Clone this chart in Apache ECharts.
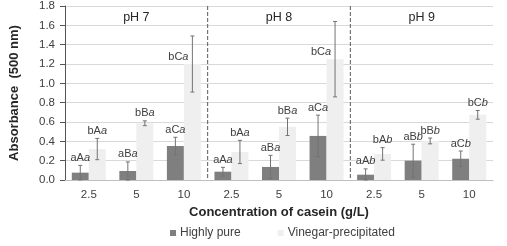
<!DOCTYPE html>
<html>
<head>
<meta charset="utf-8">
<script src="https://cdn.jsdelivr.net/npm/echarts@6/dist/echarts.min.js"></script>
<style>
  html, body { margin: 0; padding: 0; background: #fff; }
  #chart { width: 507px; height: 246px; }
</style>
</head>
<body>
<div id="chart"></div>
<script>
// casein absorbance, three pH groups
const categories = ['2.5', '5', '10', '2.5', '5', '10', '2.5', '5', '10'];
const phGroups = ['pH 7', 'pH 8', 'pH 9'];
const dividers = [3, 6];

const pureValues = [0.076, 0.093, 0.352, 0.086, 0.135, 0.456, 0.055, 0.20, 0.22];
const pureErrors = [0.075, 0.094, 0.09, 0.045, 0.12, 0.215, 0.06, 0.17, 0.08];
const pureLetters = ['aAa', 'aBa', 'aCa', 'aAa', 'aBa', 'aCa', 'aAb', 'aBb', 'aCb'];

const vinegarValues = [0.32, 0.587, 1.20, 0.29, 0.55, 1.25, 0.27, 0.404, 0.674];
const vinegarErrors = [0.11, 0.025, 0.29, 0.12, 0.09, 0.39, 0.065, 0.03, 0.045];
const vinegarLetters = ['bAa', 'bBa', 'bCa', 'bAa', 'bBa', 'bCa', 'bAb', 'bBb', 'bCb'];

const BAR_W = 17;
const FONT = 'Liberation Sans, Arial, sans-serif';

// error bar + significance letters (last letter italic)
function errorSeries(values, errors, letters, side) {
    return {
        type: 'custom',
        z: 5,
        silent: true,
        data: values.map((v, i) => [i, v, errors[i]]),
        renderItem: (params, api) => {
            const i = api.value(0), v = api.value(1), e = api.value(2);
            const c = api.coord([i, v]);
            const x = c[0] + side * BAR_W / 2;
            const top = api.coord([i, v + e])[1];
            const bot = api.coord([i, Math.max(v - e, 0)])[1];
            const line = { stroke: '#737373', lineWidth: 1 };
            const s = letters[params.dataIndex];
            // big error bars: letters sit beside the bar instead of above the whisker
            const beside = e > 0.25;
            return {
                type: 'group',
                children: [
                    { type: 'line', shape: { x1: x, y1: top, x2: x, y2: bot }, style: line },
                    { type: 'line', shape: { x1: x - 2, y1: top, x2: x + 2, y2: top }, style: line },
                    { type: 'line', shape: { x1: x - 2, y1: bot, x2: x + 2, y2: bot }, style: line },
                    {
                        type: 'text',
                        x: beside ? x - 14 : x,
                        y: beside ? c[1] - 2 : top - 2,
                        style: {
                            text: '{n|' + s.slice(0, 2) + '}{i|' + s.slice(2) + '}',
                            rich: {
                                n: { fontSize: 11, fontFamily: FONT, fill: '#404040' },
                                i: { fontSize: 11, fontFamily: FONT, fill: '#404040', fontStyle: 'italic' }
                            },
                            align: 'center',
                            verticalAlign: 'bottom'
                        }
                    }
                ]
            };
        }
    };
}

const chart = echarts.init(document.getElementById('chart'), null, { renderer: 'canvas' });
chart.setOption({
    backgroundColor: '#ffffff',
    animation: false,
    textStyle: { fontFamily: FONT },
    grid: { left: 65, right: 14, top: 6, bottom: 66 },
    legend: {
        data: ['Highly pure', 'Vinegar-precipitated'],
        left: 165,
        top: 222,
        icon: 'rect',
        itemWidth: 6,
        itemHeight: 6,
        itemGap: 37,
        textStyle: { fontSize: 12, color: '#404040', fontFamily: FONT, padding: [0, 0, 0, -1] }
    },
    xAxis: [
        {
            type: 'category',
            data: categories,
            axisTick: { show: false },
            axisLine: { lineStyle: { color: '#bfbfbf' } },
            axisLabel: { fontSize: 11.5, color: '#404040', margin: 9 },
            name: 'Concentration of casein (g/L)',
            nameLocation: 'middle',
            nameGap: 25,
            nameTextStyle: { fontSize: 13, fontWeight: 'bold', color: '#262626' }
        },
        {
            type: 'value',
            min: 0,
            max: 9,
            show: false
        },
        {
            type: 'category',
            data: phGroups,
            position: 'top',
            axisLine: { show: false },
            axisTick: { show: false },
            axisLabel: { inside: true, margin: 5, fontSize: 12.5, color: '#262626' }
        }
    ],
    yAxis: {
        type: 'value',
        min: 0,
        max: 1.8,
        interval: 0.2,
        axisLabel: { fontSize: 11.5, color: '#404040', margin: 10, formatter: v => v.toFixed(1) },
        splitLine: { lineStyle: { color: '#d9d9d9' } },
        name: 'Absorbance  (500 nm)',
        nameLocation: 'middle',
        nameGap: 44,
        nameTextStyle: { fontSize: 13, fontWeight: 'bold', color: '#262626' }
    },
    series: [
        {
            name: 'Highly pure',
            type: 'bar',
            data: pureValues,
            barWidth: BAR_W,
            barGap: '0%',
            itemStyle: { color: '#7f7f7f' }
        },
        {
            name: 'Vinegar-precipitated',
            type: 'bar',
            data: vinegarValues,
            barWidth: BAR_W,
            barGap: '0%',
            itemStyle: { color: '#efefef' }
        },
        errorSeries(pureValues, pureErrors, pureLetters, -1),
        errorSeries(vinegarValues, vinegarErrors, vinegarLetters, 1),
        // dashed separators between pH groups
        {
            type: 'custom',
            xAxisIndex: 1,
            z: 4,
            silent: true,
            data: dividers.map(d => [d]),
            renderItem: (params, api) => {
                const p = api.coord([api.value(0), 0]);
                return {
                    type: 'line',
                    shape: { x1: p[0], y1: params.coordSys.y, x2: p[0], y2: p[1] },
                    style: { stroke: '#595959', lineWidth: 1, lineDash: [4, 2] }
                };
            }
        }
    ]
});
</script>
</body>
</html>
